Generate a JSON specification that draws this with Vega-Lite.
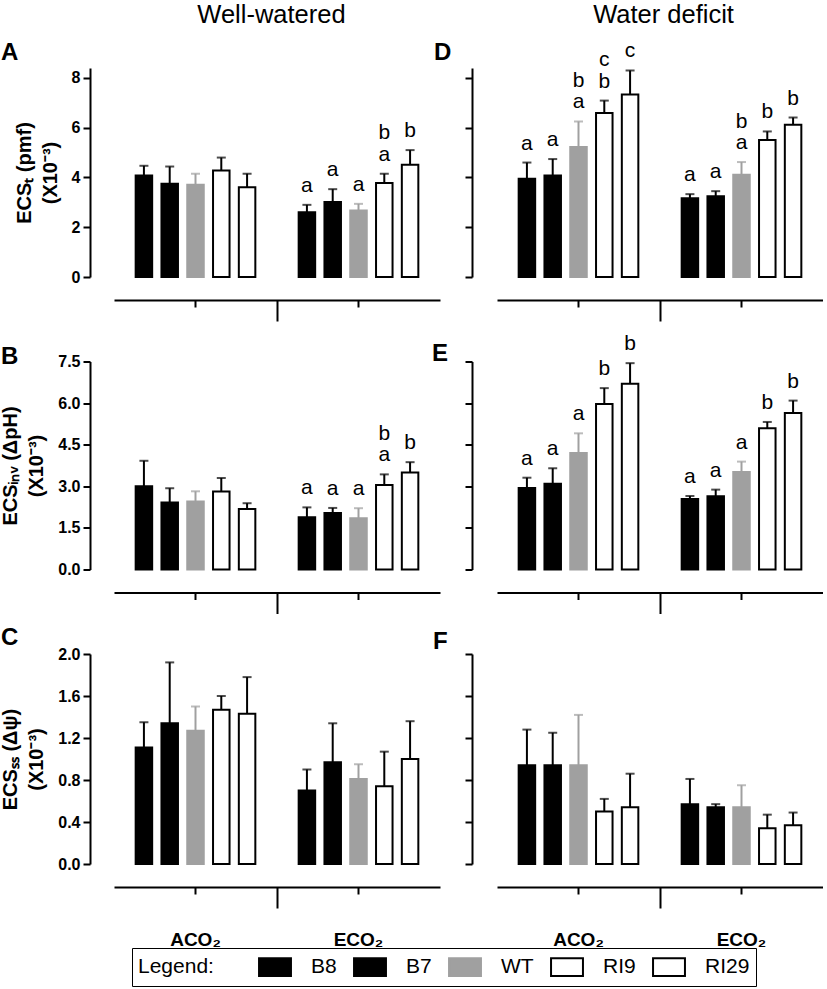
{
  "$schema": "https://vega.github.io/schema/vega-lite/v6.json",
  "autosize": {"type": "pad"},
  "padding": {"top": 2, "left": 0, "right": 0, "bottom": 0},
  "background": "white",
  "datasets": {
    "d": [
      {"panel":"A","co2":"ACO₂","genotype":"B8","mean":4.08,"upper":4.47,"lo":"","hi":""},
      {"panel":"A","co2":"ACO₂","genotype":"B7","mean":3.75,"upper":4.44,"lo":"","hi":""},
      {"panel":"A","co2":"ACO₂","genotype":"WT","mean":3.71,"upper":4.15,"lo":"","hi":""},
      {"panel":"A","co2":"ACO₂","genotype":"RI9","mean":4.28,"upper":4.80,"lo":"","hi":""},
      {"panel":"A","co2":"ACO₂","genotype":"RI29","mean":3.61,"upper":4.15,"lo":"","hi":""},
      {"panel":"A","co2":"ECO₂","genotype":"B8","mean":2.60,"upper":2.90,"lo":"a","hi":""},
      {"panel":"A","co2":"ECO₂","genotype":"B7","mean":3.01,"upper":3.53,"lo":"a","hi":""},
      {"panel":"A","co2":"ECO₂","genotype":"WT","mean":2.67,"upper":2.94,"lo":"a","hi":""},
      {"panel":"A","co2":"ECO₂","genotype":"RI9","mean":3.78,"upper":4.15,"lo":"a","hi":"b"},
      {"panel":"A","co2":"ECO₂","genotype":"RI29","mean":4.51,"upper":5.10,"lo":"b","hi":""},
      {"panel":"B","co2":"ACO₂","genotype":"B8","mean":3.00,"upper":3.92,"lo":"","hi":""},
      {"panel":"B","co2":"ACO₂","genotype":"B7","mean":2.42,"upper":2.93,"lo":"","hi":""},
      {"panel":"B","co2":"ACO₂","genotype":"WT","mean":2.45,"upper":2.82,"lo":"","hi":""},
      {"panel":"B","co2":"ACO₂","genotype":"RI9","mean":2.81,"upper":3.30,"lo":"","hi":""},
      {"panel":"B","co2":"ACO₂","genotype":"RI29","mean":2.18,"upper":2.39,"lo":"","hi":""},
      {"panel":"B","co2":"ECO₂","genotype":"B8","mean":1.88,"upper":2.24,"lo":"a","hi":""},
      {"panel":"B","co2":"ECO₂","genotype":"B7","mean":2.04,"upper":2.22,"lo":"a","hi":""},
      {"panel":"B","co2":"ECO₂","genotype":"WT","mean":1.85,"upper":2.21,"lo":"a","hi":""},
      {"panel":"B","co2":"ECO₂","genotype":"RI9","mean":3.05,"upper":3.43,"lo":"a","hi":"b"},
      {"panel":"B","co2":"ECO₂","genotype":"RI29","mean":3.50,"upper":3.87,"lo":"b","hi":""},
      {"panel":"C","co2":"ACO₂","genotype":"B8","mean":1.11,"upper":1.35,"lo":"","hi":""},
      {"panel":"C","co2":"ACO₂","genotype":"B7","mean":1.34,"upper":1.92,"lo":"","hi":""},
      {"panel":"C","co2":"ACO₂","genotype":"WT","mean":1.27,"upper":1.50,"lo":"","hi":""},
      {"panel":"C","co2":"ACO₂","genotype":"RI9","mean":1.47,"upper":1.60,"lo":"","hi":""},
      {"panel":"C","co2":"ACO₂","genotype":"RI29","mean":1.43,"upper":1.78,"lo":"","hi":""},
      {"panel":"C","co2":"ECO₂","genotype":"B8","mean":0.70,"upper":0.90,"lo":"","hi":""},
      {"panel":"C","co2":"ECO₂","genotype":"B7","mean":0.97,"upper":1.34,"lo":"","hi":""},
      {"panel":"C","co2":"ECO₂","genotype":"WT","mean":0.81,"upper":0.95,"lo":"","hi":""},
      {"panel":"C","co2":"ECO₂","genotype":"RI9","mean":0.74,"upper":1.07,"lo":"","hi":""},
      {"panel":"C","co2":"ECO₂","genotype":"RI29","mean":1.00,"upper":1.36,"lo":"","hi":""},
      {"panel":"D","co2":"ACO₂","genotype":"B8","mean":3.95,"upper":4.60,"lo":"a","hi":""},
      {"panel":"D","co2":"ACO₂","genotype":"B7","mean":4.08,"upper":4.74,"lo":"a","hi":""},
      {"panel":"D","co2":"ACO₂","genotype":"WT","mean":5.22,"upper":6.25,"lo":"a","hi":"b"},
      {"panel":"D","co2":"ACO₂","genotype":"RI9","mean":6.59,"upper":7.09,"lo":"b","hi":"c"},
      {"panel":"D","co2":"ACO₂","genotype":"RI29","mean":7.33,"upper":8.30,"lo":"c","hi":""},
      {"panel":"D","co2":"ECO₂","genotype":"B8","mean":3.17,"upper":3.33,"lo":"a","hi":""},
      {"panel":"D","co2":"ECO₂","genotype":"B7","mean":3.25,"upper":3.45,"lo":"a","hi":""},
      {"panel":"D","co2":"ECO₂","genotype":"WT","mean":4.11,"upper":4.62,"lo":"a","hi":"b"},
      {"panel":"D","co2":"ECO₂","genotype":"RI9","mean":5.51,"upper":5.85,"lo":"b","hi":""},
      {"panel":"D","co2":"ECO₂","genotype":"RI29","mean":6.12,"upper":6.41,"lo":"b","hi":""},
      {"panel":"E","co2":"ACO₂","genotype":"B8","mean":2.94,"upper":3.31,"lo":"a","hi":""},
      {"panel":"E","co2":"ACO₂","genotype":"B7","mean":3.09,"upper":3.65,"lo":"a","hi":""},
      {"panel":"E","co2":"ACO₂","genotype":"WT","mean":4.20,"upper":4.91,"lo":"a","hi":""},
      {"panel":"E","co2":"ACO₂","genotype":"RI9","mean":5.97,"upper":6.54,"lo":"b","hi":""},
      {"panel":"E","co2":"ACO₂","genotype":"RI29","mean":6.70,"upper":7.44,"lo":"b","hi":""},
      {"panel":"E","co2":"ECO₂","genotype":"B8","mean":2.54,"upper":2.65,"lo":"a","hi":""},
      {"panel":"E","co2":"ECO₂","genotype":"B7","mean":2.64,"upper":2.88,"lo":"a","hi":""},
      {"panel":"E","co2":"ECO₂","genotype":"WT","mean":3.52,"upper":3.89,"lo":"a","hi":""},
      {"panel":"E","co2":"ECO₂","genotype":"RI9","mean":5.09,"upper":5.32,"lo":"b","hi":""},
      {"panel":"E","co2":"ECO₂","genotype":"RI29","mean":5.64,"upper":6.09,"lo":"b","hi":""},
      {"panel":"F","co2":"ACO₂","genotype":"B8","mean":0.94,"upper":1.28,"lo":"","hi":""},
      {"panel":"F","co2":"ACO₂","genotype":"B7","mean":0.94,"upper":1.25,"lo":"","hi":""},
      {"panel":"F","co2":"ACO₂","genotype":"WT","mean":0.94,"upper":1.42,"lo":"","hi":""},
      {"panel":"F","co2":"ACO₂","genotype":"RI9","mean":0.50,"upper":0.62,"lo":"","hi":""},
      {"panel":"F","co2":"ACO₂","genotype":"RI29","mean":0.54,"upper":0.86,"lo":"","hi":""},
      {"panel":"F","co2":"ECO₂","genotype":"B8","mean":0.57,"upper":0.81,"lo":"","hi":""},
      {"panel":"F","co2":"ECO₂","genotype":"B7","mean":0.54,"upper":0.57,"lo":"","hi":""},
      {"panel":"F","co2":"ECO₂","genotype":"WT","mean":0.54,"upper":0.75,"lo":"","hi":""},
      {"panel":"F","co2":"ECO₂","genotype":"RI9","mean":0.34,"upper":0.47,"lo":"","hi":""},
      {"panel":"F","co2":"ECO₂","genotype":"RI29","mean":0.37,"upper":0.49,"lo":"","hi":""}
    ]
  },
  "bounds": "flush",
  "columns": 2,
  "spacing": {"row": 84.5, "column": 57},
  "concat": [
    {
      "width": 326, "height": 209,
      "title": {"text": "A", "anchor": "start", "frame": "group", "dx": -113, "offset": -62.5},
      "data": {"name": "d"},
      "transform": [{"filter": "datum.panel === 'A'"}],
      "resolve": {"axis": {"x": "independent"}},
      "layer": [
        {"mark": {"type": "bar", "strokeWidth": 2},
         "encoding": {
           "x": {"field": "co2", "type": "nominal", "sort": ["ACO₂","ECO₂"], "scale": {"paddingInner": 0, "paddingOuter": 0}, "axis": {"orient": "bottom", "offset": 23, "title": null, "labels": false, "tickSize": 7}},
           "xOffset": {"field": "genotype", "type": "nominal", "sort": ["B8","B7","WT","RI9","RI29"], "scale": {"paddingInner": 0.36, "paddingOuter": 0.84}},
           "y": {"field": "mean", "type": "quantitative", "scale": {"domain": [0, 8.4], "nice": false}, "axis": {"values": [0,2,4,6,8], "format": "d", "offset": 24, "title": ["ECSₜ (pmf)", "(X10⁻³)"]}},
           "fill": {"field": "genotype", "type": "nominal", "title": "Legend:", "sort": ["B8","B7","WT","RI9","RI29"], "scale": {"domain": ["B8","B7","WT","RI9","RI29"], "range": ["#000000","#000000","#a0a0a0","#ffffff","#ffffff"]}},
           "stroke": {"field": "genotype", "type": "nominal", "title": "Legend:", "sort": ["B8","B7","WT","RI9","RI29"], "scale": {"domain": ["B8","B7","WT","RI9","RI29"], "range": ["#000000","#000000","#a0a0a0","#000000","#000000"]}}
         }},
        {"mark": {"type": "rule", "strokeWidth": 2},
         "encoding": {
           "x": {"field": "co2", "type": "nominal", "sort": ["ACO₂","ECO₂"], "axis": null},
           "xOffset": {"field": "genotype", "type": "nominal", "sort": ["B8","B7","WT","RI9","RI29"]},
           "y": {"field": "mean", "type": "quantitative"},
           "y2": {"field": "upper"},
           "color": {"condition": {"test": "datum.genotype === 'WT'", "value": "#a0a0a0"}, "value": "#000000"}
         }},
        {"mark": {"type": "tick", "thickness": 2, "size": 9},
         "encoding": {
           "x": {"field": "co2", "type": "nominal", "sort": ["ACO₂","ECO₂"], "axis": {"orient": "top", "domain": false, "ticks": false, "labels": false, "title": "Well-watered", "titleFontSize": 25.5, "titleFontWeight": "normal", "titleBaseline": "alphabetic", "titlePadding": 46, "titleX": 157}},
           "xOffset": {"field": "genotype", "type": "nominal", "sort": ["B8","B7","WT","RI9","RI29"]},
           "y": {"field": "upper", "type": "quantitative"},
           "color": {"condition": {"test": "datum.genotype === 'WT'", "value": "#a0a0a0"}, "value": "#000000"}
         }},
        {"mark": {"type": "text", "dy": -13, "fontSize": 21, "font": "Liberation Sans", "color": "#000000", "baseline": "alphabetic"},
         "encoding": {
           "x": {"field": "co2", "type": "nominal", "sort": ["ACO₂","ECO₂"], "axis": null},
           "xOffset": {"field": "genotype", "type": "nominal", "sort": ["B8","B7","WT","RI9","RI29"]},
           "y": {"field": "upper", "type": "quantitative"},
           "text": {"field": "lo"}
         }},
        {"mark": {"type": "text", "dy": -34.5, "fontSize": 21, "font": "Liberation Sans", "color": "#000000", "baseline": "alphabetic"},
         "encoding": {
           "x": {"field": "co2", "type": "nominal", "sort": ["ACO₂","ECO₂"], "axis": {"orient": "bottom", "offset": 23, "title": null, "labels": false, "domain": false, "values": ["ACO₂"], "bandPosition": 1, "tickSize": 21}},
           "xOffset": {"field": "genotype", "type": "nominal", "sort": ["B8","B7","WT","RI9","RI29"]},
           "y": {"field": "upper", "type": "quantitative"},
           "text": {"field": "hi"}
         }}
      ]
    },
    {
      "width": 326, "height": 209,
      "title": {"text": "D", "anchor": "start", "frame": "group", "dx": -63, "offset": -62.5},
      "data": {"name": "d"},
      "transform": [{"filter": "datum.panel === 'D'"}],
      "resolve": {"axis": {"x": "independent"}},
      "layer": [
        {"mark": {"type": "bar", "strokeWidth": 2},
         "encoding": {
           "x": {"field": "co2", "type": "nominal", "sort": ["ACO₂","ECO₂"], "scale": {"paddingInner": 0, "paddingOuter": 0}, "axis": {"orient": "bottom", "offset": 23, "title": null, "labels": false, "tickSize": 7}},
           "xOffset": {"field": "genotype", "type": "nominal", "sort": ["B8","B7","WT","RI9","RI29"], "scale": {"paddingInner": 0.36, "paddingOuter": 0.84}},
           "y": {"field": "mean", "type": "quantitative", "scale": {"domain": [0, 8.4], "nice": false}, "axis": {"values": [0,2,4,6,8], "labels": false, "offset": 25, "title": null}},
           "fill": {"field": "genotype", "type": "nominal", "title": "Legend:", "sort": ["B8","B7","WT","RI9","RI29"], "scale": {"domain": ["B8","B7","WT","RI9","RI29"], "range": ["#000000","#000000","#a0a0a0","#ffffff","#ffffff"]}},
           "stroke": {"field": "genotype", "type": "nominal", "title": "Legend:", "sort": ["B8","B7","WT","RI9","RI29"], "scale": {"domain": ["B8","B7","WT","RI9","RI29"], "range": ["#000000","#000000","#a0a0a0","#000000","#000000"]}}
         }},
        {"mark": {"type": "rule", "strokeWidth": 2},
         "encoding": {
           "x": {"field": "co2", "type": "nominal", "sort": ["ACO₂","ECO₂"], "axis": null},
           "xOffset": {"field": "genotype", "type": "nominal", "sort": ["B8","B7","WT","RI9","RI29"]},
           "y": {"field": "mean", "type": "quantitative"},
           "y2": {"field": "upper"},
           "color": {"condition": {"test": "datum.genotype === 'WT'", "value": "#a0a0a0"}, "value": "#000000"}
         }},
        {"mark": {"type": "tick", "thickness": 2, "size": 9},
         "encoding": {
           "x": {"field": "co2", "type": "nominal", "sort": ["ACO₂","ECO₂"], "axis": {"orient": "top", "domain": false, "ticks": false, "labels": false, "title": "Water deficit", "titleFontSize": 25.5, "titleFontWeight": "normal", "titleBaseline": "alphabetic", "titlePadding": 46, "titleX": 166}},
           "xOffset": {"field": "genotype", "type": "nominal", "sort": ["B8","B7","WT","RI9","RI29"]},
           "y": {"field": "upper", "type": "quantitative"},
           "color": {"condition": {"test": "datum.genotype === 'WT'", "value": "#a0a0a0"}, "value": "#000000"}
         }},
        {"mark": {"type": "text", "dy": -13, "fontSize": 21, "font": "Liberation Sans", "color": "#000000", "baseline": "alphabetic"},
         "encoding": {
           "x": {"field": "co2", "type": "nominal", "sort": ["ACO₂","ECO₂"], "axis": null},
           "xOffset": {"field": "genotype", "type": "nominal", "sort": ["B8","B7","WT","RI9","RI29"]},
           "y": {"field": "upper", "type": "quantitative"},
           "text": {"field": "lo"}
         }},
        {"mark": {"type": "text", "dy": -34.5, "fontSize": 21, "font": "Liberation Sans", "color": "#000000", "baseline": "alphabetic"},
         "encoding": {
           "x": {"field": "co2", "type": "nominal", "sort": ["ACO₂","ECO₂"], "axis": {"orient": "bottom", "offset": 23, "title": null, "labels": false, "domain": false, "values": ["ACO₂"], "bandPosition": 1, "tickSize": 21}},
           "xOffset": {"field": "genotype", "type": "nominal", "sort": ["B8","B7","WT","RI9","RI29"]},
           "y": {"field": "upper", "type": "quantitative"},
           "text": {"field": "hi"}
         }}
      ]
    },
    {
      "width": 326, "height": 208,
      "title": {"text": "B", "anchor": "start", "frame": "group", "dx": -113, "offset": -15.6},
      "data": {"name": "d"},
      "transform": [{"filter": "datum.panel === 'B'"}],
      "resolve": {"axis": {"x": "independent"}},
      "layer": [
        {"mark": {"type": "bar", "strokeWidth": 2},
         "encoding": {
           "x": {"field": "co2", "type": "nominal", "sort": ["ACO₂","ECO₂"], "scale": {"paddingInner": 0, "paddingOuter": 0}, "axis": {"orient": "bottom", "offset": 23, "title": null, "labels": false, "tickSize": 7}},
           "xOffset": {"field": "genotype", "type": "nominal", "sort": ["B8","B7","WT","RI9","RI29"], "scale": {"paddingInner": 0.36, "paddingOuter": 0.84}},
           "y": {"field": "mean", "type": "quantitative", "scale": {"domain": [0, 7.5], "nice": false}, "axis": {"values": [0,1.5,3,4.5,6,7.5], "format": ".1f", "offset": 24, "title": ["ECSᵢₙᵥ (ΔpH)", "(X10⁻³)"]}},
           "fill": {"field": "genotype", "type": "nominal", "title": "Legend:", "sort": ["B8","B7","WT","RI9","RI29"], "scale": {"domain": ["B8","B7","WT","RI9","RI29"], "range": ["#000000","#000000","#a0a0a0","#ffffff","#ffffff"]}},
           "stroke": {"field": "genotype", "type": "nominal", "title": "Legend:", "sort": ["B8","B7","WT","RI9","RI29"], "scale": {"domain": ["B8","B7","WT","RI9","RI29"], "range": ["#000000","#000000","#a0a0a0","#000000","#000000"]}}
         }},
        {"mark": {"type": "rule", "strokeWidth": 2},
         "encoding": {
           "x": {"field": "co2", "type": "nominal", "sort": ["ACO₂","ECO₂"], "axis": null},
           "xOffset": {"field": "genotype", "type": "nominal", "sort": ["B8","B7","WT","RI9","RI29"]},
           "y": {"field": "mean", "type": "quantitative"},
           "y2": {"field": "upper"},
           "color": {"condition": {"test": "datum.genotype === 'WT'", "value": "#a0a0a0"}, "value": "#000000"}
         }},
        {"mark": {"type": "tick", "thickness": 2, "size": 9},
         "encoding": {
           "x": {"field": "co2", "type": "nominal", "sort": ["ACO₂","ECO₂"], "axis": null},
           "xOffset": {"field": "genotype", "type": "nominal", "sort": ["B8","B7","WT","RI9","RI29"]},
           "y": {"field": "upper", "type": "quantitative"},
           "color": {"condition": {"test": "datum.genotype === 'WT'", "value": "#a0a0a0"}, "value": "#000000"}
         }},
        {"mark": {"type": "text", "dy": -13, "fontSize": 21, "font": "Liberation Sans", "color": "#000000", "baseline": "alphabetic"},
         "encoding": {
           "x": {"field": "co2", "type": "nominal", "sort": ["ACO₂","ECO₂"], "axis": null},
           "xOffset": {"field": "genotype", "type": "nominal", "sort": ["B8","B7","WT","RI9","RI29"]},
           "y": {"field": "upper", "type": "quantitative"},
           "text": {"field": "lo"}
         }},
        {"mark": {"type": "text", "dy": -34.5, "fontSize": 21, "font": "Liberation Sans", "color": "#000000", "baseline": "alphabetic"},
         "encoding": {
           "x": {"field": "co2", "type": "nominal", "sort": ["ACO₂","ECO₂"], "axis": {"orient": "bottom", "offset": 23, "title": null, "labels": false, "domain": false, "values": ["ACO₂"], "bandPosition": 1, "tickSize": 21}},
           "xOffset": {"field": "genotype", "type": "nominal", "sort": ["B8","B7","WT","RI9","RI29"]},
           "y": {"field": "upper", "type": "quantitative"},
           "text": {"field": "hi"}
         }}
      ]
    },
    {
      "width": 326, "height": 208,
      "title": {"text": "E", "anchor": "start", "frame": "group", "dx": -65, "offset": -54},
      "data": {"name": "d"},
      "transform": [{"filter": "datum.panel === 'E'"}],
      "resolve": {"axis": {"x": "independent"}},
      "layer": [
        {"mark": {"type": "bar", "strokeWidth": 2},
         "encoding": {
           "x": {"field": "co2", "type": "nominal", "sort": ["ACO₂","ECO₂"], "scale": {"paddingInner": 0, "paddingOuter": 0}, "axis": {"orient": "bottom", "offset": 23, "title": null, "labels": false, "tickSize": 7}},
           "xOffset": {"field": "genotype", "type": "nominal", "sort": ["B8","B7","WT","RI9","RI29"], "scale": {"paddingInner": 0.36, "paddingOuter": 0.84}},
           "y": {"field": "mean", "type": "quantitative", "scale": {"domain": [0, 7.5], "nice": false}, "axis": {"values": [0,1.5,3,4.5,6,7.5], "labels": false, "offset": 25, "title": null}},
           "fill": {"field": "genotype", "type": "nominal", "title": "Legend:", "sort": ["B8","B7","WT","RI9","RI29"], "scale": {"domain": ["B8","B7","WT","RI9","RI29"], "range": ["#000000","#000000","#a0a0a0","#ffffff","#ffffff"]}},
           "stroke": {"field": "genotype", "type": "nominal", "title": "Legend:", "sort": ["B8","B7","WT","RI9","RI29"], "scale": {"domain": ["B8","B7","WT","RI9","RI29"], "range": ["#000000","#000000","#a0a0a0","#000000","#000000"]}}
         }},
        {"mark": {"type": "rule", "strokeWidth": 2},
         "encoding": {
           "x": {"field": "co2", "type": "nominal", "sort": ["ACO₂","ECO₂"], "axis": null},
           "xOffset": {"field": "genotype", "type": "nominal", "sort": ["B8","B7","WT","RI9","RI29"]},
           "y": {"field": "mean", "type": "quantitative"},
           "y2": {"field": "upper"},
           "color": {"condition": {"test": "datum.genotype === 'WT'", "value": "#a0a0a0"}, "value": "#000000"}
         }},
        {"mark": {"type": "tick", "thickness": 2, "size": 9},
         "encoding": {
           "x": {"field": "co2", "type": "nominal", "sort": ["ACO₂","ECO₂"], "axis": null},
           "xOffset": {"field": "genotype", "type": "nominal", "sort": ["B8","B7","WT","RI9","RI29"]},
           "y": {"field": "upper", "type": "quantitative"},
           "color": {"condition": {"test": "datum.genotype === 'WT'", "value": "#a0a0a0"}, "value": "#000000"}
         }},
        {"mark": {"type": "text", "dy": -13, "fontSize": 21, "font": "Liberation Sans", "color": "#000000", "baseline": "alphabetic"},
         "encoding": {
           "x": {"field": "co2", "type": "nominal", "sort": ["ACO₂","ECO₂"], "axis": null},
           "xOffset": {"field": "genotype", "type": "nominal", "sort": ["B8","B7","WT","RI9","RI29"]},
           "y": {"field": "upper", "type": "quantitative"},
           "text": {"field": "lo"}
         }},
        {"mark": {"type": "text", "dy": -34.5, "fontSize": 21, "font": "Liberation Sans", "color": "#000000", "baseline": "alphabetic"},
         "encoding": {
           "x": {"field": "co2", "type": "nominal", "sort": ["ACO₂","ECO₂"], "axis": {"orient": "bottom", "offset": 23, "title": null, "labels": false, "domain": false, "values": ["ACO₂"], "bandPosition": 1, "tickSize": 21}},
           "xOffset": {"field": "genotype", "type": "nominal", "sort": ["B8","B7","WT","RI9","RI29"]},
           "y": {"field": "upper", "type": "quantitative"},
           "text": {"field": "hi"}
         }}
      ]
    },
    {
      "width": 326, "height": 210,
      "title": {"text": "C", "anchor": "start", "frame": "group", "dx": -113, "offset": -3.7},
      "data": {"name": "d"},
      "transform": [{"filter": "datum.panel === 'C'"}],
      "resolve": {"axis": {"x": "independent"}},
      "layer": [
        {"mark": {"type": "bar", "strokeWidth": 2},
         "encoding": {
           "x": {"field": "co2", "type": "nominal", "sort": ["ACO₂","ECO₂"], "scale": {"paddingInner": 0, "paddingOuter": 0}, "axis": {"orient": "bottom", "offset": 23, "title": null, "labels": true, "tickSize": 7, "labelAngle": 0, "labelFontSize": 19, "labelPadding": 36}},
           "xOffset": {"field": "genotype", "type": "nominal", "sort": ["B8","B7","WT","RI9","RI29"], "scale": {"paddingInner": 0.36, "paddingOuter": 0.84}},
           "y": {"field": "mean", "type": "quantitative", "scale": {"domain": [0, 2], "nice": false}, "axis": {"values": [0,0.4,0.8,1.2,1.6,2.0], "format": ".1f", "offset": 24, "title": ["ECSₛₛ (Δψ)", "(X10⁻³)"]}},
           "fill": {"field": "genotype", "type": "nominal", "title": "Legend:", "sort": ["B8","B7","WT","RI9","RI29"], "scale": {"domain": ["B8","B7","WT","RI9","RI29"], "range": ["#000000","#000000","#a0a0a0","#ffffff","#ffffff"]}},
           "stroke": {"field": "genotype", "type": "nominal", "title": "Legend:", "sort": ["B8","B7","WT","RI9","RI29"], "scale": {"domain": ["B8","B7","WT","RI9","RI29"], "range": ["#000000","#000000","#a0a0a0","#000000","#000000"]}}
         }},
        {"mark": {"type": "rule", "strokeWidth": 2},
         "encoding": {
           "x": {"field": "co2", "type": "nominal", "sort": ["ACO₂","ECO₂"], "axis": null},
           "xOffset": {"field": "genotype", "type": "nominal", "sort": ["B8","B7","WT","RI9","RI29"]},
           "y": {"field": "mean", "type": "quantitative"},
           "y2": {"field": "upper"},
           "color": {"condition": {"test": "datum.genotype === 'WT'", "value": "#a0a0a0"}, "value": "#000000"}
         }},
        {"mark": {"type": "tick", "thickness": 2, "size": 9},
         "encoding": {
           "x": {"field": "co2", "type": "nominal", "sort": ["ACO₂","ECO₂"], "axis": {"orient": "bottom", "offset": 23, "title": null, "labels": false, "domain": false, "values": ["ACO₂"], "bandPosition": 1, "tickSize": 21}},
           "xOffset": {"field": "genotype", "type": "nominal", "sort": ["B8","B7","WT","RI9","RI29"]},
           "y": {"field": "upper", "type": "quantitative"},
           "color": {"condition": {"test": "datum.genotype === 'WT'", "value": "#a0a0a0"}, "value": "#000000"}
         }}
      ]
    },
    {
      "width": 326, "height": 210,
      "title": {"text": "F", "anchor": "start", "frame": "group", "dx": -64, "offset": -0.7},
      "data": {"name": "d"},
      "transform": [{"filter": "datum.panel === 'F'"}],
      "resolve": {"axis": {"x": "independent"}},
      "layer": [
        {"mark": {"type": "bar", "strokeWidth": 2},
         "encoding": {
           "x": {"field": "co2", "type": "nominal", "sort": ["ACO₂","ECO₂"], "scale": {"paddingInner": 0, "paddingOuter": 0}, "axis": {"orient": "bottom", "offset": 23, "title": null, "labels": true, "tickSize": 7, "labelAngle": 0, "labelFontSize": 19, "labelPadding": 36}},
           "xOffset": {"field": "genotype", "type": "nominal", "sort": ["B8","B7","WT","RI9","RI29"], "scale": {"paddingInner": 0.36, "paddingOuter": 0.84}},
           "y": {"field": "mean", "type": "quantitative", "scale": {"domain": [0, 2], "nice": false}, "axis": {"values": [0,0.4,0.8,1.2,1.6,2.0], "labels": false, "offset": 25, "title": null}},
           "fill": {"field": "genotype", "type": "nominal", "title": "Legend:", "sort": ["B8","B7","WT","RI9","RI29"], "scale": {"domain": ["B8","B7","WT","RI9","RI29"], "range": ["#000000","#000000","#a0a0a0","#ffffff","#ffffff"]}},
           "stroke": {"field": "genotype", "type": "nominal", "title": "Legend:", "sort": ["B8","B7","WT","RI9","RI29"], "scale": {"domain": ["B8","B7","WT","RI9","RI29"], "range": ["#000000","#000000","#a0a0a0","#000000","#000000"]}}
         }},
        {"mark": {"type": "rule", "strokeWidth": 2},
         "encoding": {
           "x": {"field": "co2", "type": "nominal", "sort": ["ACO₂","ECO₂"], "axis": null},
           "xOffset": {"field": "genotype", "type": "nominal", "sort": ["B8","B7","WT","RI9","RI29"]},
           "y": {"field": "mean", "type": "quantitative"},
           "y2": {"field": "upper"},
           "color": {"condition": {"test": "datum.genotype === 'WT'", "value": "#a0a0a0"}, "value": "#000000"}
         }},
        {"mark": {"type": "tick", "thickness": 2, "size": 9},
         "encoding": {
           "x": {"field": "co2", "type": "nominal", "sort": ["ACO₂","ECO₂"], "axis": {"orient": "bottom", "offset": 23, "title": null, "labels": false, "domain": false, "values": ["ACO₂"], "bandPosition": 1, "tickSize": 21}},
           "xOffset": {"field": "genotype", "type": "nominal", "sort": ["B8","B7","WT","RI9","RI29"]},
           "y": {"field": "upper", "type": "quantitative"},
           "color": {"condition": {"test": "datum.genotype === 'WT'", "value": "#a0a0a0"}, "value": "#000000"}
         }}
      ]
    }
  ],
  "config": {
    "font": "Liberation Sans",
    "view": {"stroke": null},
    "axis": {
      "domainColor": "#000000", "domainWidth": 2, "tickColor": "#000000", "tickWidth": 2, "tickSize": 7,
      "labelColor": "#000000", "labelFont": "Liberation Sans", "labelFontWeight": "bold", "labelFontSize": 16,
      "grid": false, "titleColor": "#000000", "titleFont": "Liberation Sans", "titleFontWeight": "bold"
    },
    "axisY": {"labelPadding": 3, "titleFontSize": 20, "titleLineHeight": 26, "titlePadding": 11},
    "title": {"color": "#000000", "font": "Liberation Sans", "fontSize": 24, "fontWeight": "bold", "baseline": "alphabetic"},
    "legend": {
      "orient": "none", "legendX": 18, "legendY": 880,
      "direction": "horizontal",
      "titleOrient": "left", "titleFontSize": 21, "titleFontWeight": "normal", "titleColor": "#000000", "titleFont": "Liberation Sans", "titlePadding": 48,
      "labelFontSize": 21, "labelColor": "#000000", "labelFont": "Liberation Sans", "labelOffset": 23,
      "columnPadding": 13,
      "symbolType": "M-1.33,-0.73H1.33V0.73H-1.33Z", "symbolSize": 576, "symbolStrokeWidth": 2, "symbolOpacity": 1,
      "strokeColor": "#000000", "padding": 6
    }
  }
}
